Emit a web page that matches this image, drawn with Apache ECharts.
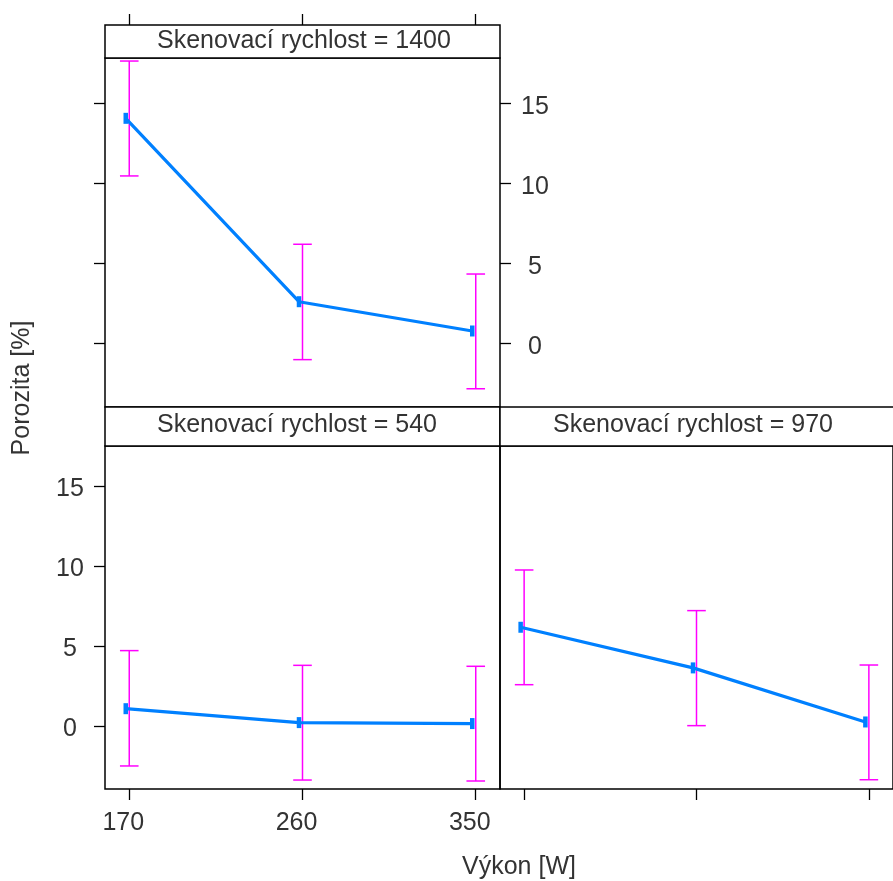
<!DOCTYPE html>
<html>
<head>
<meta charset="utf-8">
<script src="https://cdn.jsdelivr.net/npm/echarts@6/dist/echarts.min.js"></script>
<style>
html,body{margin:0;padding:0;background:#fff;}
#chart{width:893px;height:881px;}
</style>
</head>
<body>
<div id="chart"></div>
<script>
// ---- data ----
const power = [170, 260, 350];
const xTicks = [170, 260, 350];
const yTicks = [0, 5, 10, 15];
const stripPrefix = 'Skenovací rychlost = ';
const speeds = ['1400', '540', '970'];
const mean1400 = [14.06, 2.60, 0.77];
const lo1400 = [10.46, -1.02, -2.84];
const hi1400 = [17.64, 6.19, 4.33];
const mean540 = [1.08, 0.21, 0.15];
const lo540 = [-2.50, -3.38, -3.44];
const hi540 = [4.71, 3.79, 3.73];
const mean970 = [6.17, 3.63, 0.25];
const lo970 = [2.58, 0.02, -3.36];
const hi970 = [9.75, 7.21, 3.81];
const yTitle = 'Porozita [%]';
const xTitle = 'Výkon [W]';

// ---- style ----
const FONT = "'Liberation Sans', Arial, sans-serif";
const FS = 25;
const TXT = '#333';
const BLUE = '#0080ff';
const MAG = '#ff00ff';
const XMIN = 157.4, XMAX = 362.6, XSHIFT = 1.82;

const chart = echarts.init(document.getElementById('chart'), null, {renderer: 'canvas'});

const grids = [
  {left: 105, top: 58, width: 395, height: 349},
  {left: 105, top: 446, width: 395, height: 343},
  {left: 500, top: 446, width: 396, height: 343}
].map(g => Object.assign(g, {show: true, borderColor: '#000', borderWidth: 1.5, backgroundColor: 'transparent', containLabel: false}));

const tickStyle = {lineStyle: {color: '#000', width: 1.3}, length: 11, inside: false};
function xVisible(gi, pos, labels, offset) {
  return {
    type: 'value', gridIndex: gi, position: pos, offset: offset || 0, min: XMIN, max: XMAX,
    axisLine: {show: false, onZero: false}, splitLine: {show: false},
    axisTick: Object.assign({show: true, customValues: xTicks}, tickStyle),
    axisLabel: labels ? {show: true, customValues: xTicks, fontFamily: FONT, fontSize: FS, color: TXT, margin: 22, padding: [0, 12, 0, 0], align: 'center'} : {show: false}
  };
}
function xHidden(gi) {
  return {type: 'value', gridIndex: gi, show: false, min: XMIN + XSHIFT, max: XMAX + XSHIFT, axisLine: {onZero: false}};
}
function yAxis(gi, pos, min, max, ticks, labels) {
  return {
    type: 'value', gridIndex: gi, position: pos, min: min, max: max,
    show: ticks,
    axisLine: {show: false, onZero: false}, splitLine: {show: false},
    axisTick: Object.assign({show: ticks, customValues: yTicks}, tickStyle),
    axisLabel: labels ? {show: true, customValues: yTicks, fontFamily: FONT, fontSize: FS, color: TXT, margin: 35, align: 'center', verticalAlign: 'top', lineHeight: 7} : {show: false}
  };
}

const xAxes = [
  xVisible(0, 'top', false, 33), xHidden(0),
  xVisible(1, 'bottom', true), xHidden(1),
  xVisible(2, 'bottom', false), xHidden(2)
];
const Y0 = [-3.98, 17.83], Y1 = [-3.94, 17.5];
const yAxes = [
  yAxis(0, 'left', Y0[0], Y0[1], true, false),
  yAxis(0, 'right', Y0[0], Y0[1], true, true),
  yAxis(1, 'left', Y1[0], Y1[1], true, true),
  yAxis(2, 'left', Y1[0], Y1[1], false, false)
];

function errSeries(xi, yi, lo, hi) {
  return {
    type: 'custom', xAxisIndex: xi, yAxisIndex: yi, silent: true, z: 3,
    data: power.map((p, i) => [p, lo[i], hi[i]]),
    renderItem: function (params, api) {
      const a = api.coord([api.value(0), api.value(1)]);
      const b = api.coord([api.value(0), api.value(2)]);
      const hw = 9.3;
      const st = {stroke: MAG, lineWidth: 1.5};
      return {type: 'group', children: [
        {type: 'line', shape: {x1: a[0], y1: a[1], x2: b[0], y2: b[1]}, style: st},
        {type: 'line', shape: {x1: a[0] - hw, y1: a[1], x2: a[0] + hw, y2: a[1]}, style: st},
        {type: 'line', shape: {x1: b[0] - hw, y1: b[1], x2: b[0] + hw, y2: b[1]}, style: st}
      ]};
    }
  };
}
function meanSeries(xi, yi, mean) {
  return {
    type: 'line', xAxisIndex: xi, yAxisIndex: yi, z: 4,
    data: power.map((p, i) => [p, mean[i]]),
    symbol: 'rect', symbolSize: [4.5, 11], showSymbol: true,
    lineStyle: {color: BLUE, width: 3.2}, itemStyle: {color: BLUE},
    emphasis: {disabled: true}
  };
}

const stripStyle = {fill: '#fff', stroke: '#000', lineWidth: 1.5};
function stripText(x, y, s) {
  return {type: 'text', x: x, y: y, z: 10, style: {text: stripPrefix + s, font: FS + 'px ' + FONT, fill: TXT, align: 'left', verticalAlign: 'middle'}};
}

chart.setOption({
  animation: false,
  backgroundColor: '#fff',
  grid: grids,
  xAxis: xAxes,
  yAxis: yAxes,
  series: [
    errSeries(0, 0, lo1400, hi1400), meanSeries(1, 0, mean1400),
    errSeries(2, 2, lo540, hi540), meanSeries(3, 2, mean540),
    errSeries(4, 3, lo970, hi970), meanSeries(5, 3, mean970)
  ],
  graphic: [
    {type: 'rect', z: 9, shape: {x: 105, y: 25, width: 395, height: 33}, style: stripStyle},
    {type: 'rect', z: 9, shape: {x: 105, y: 407, width: 395, height: 39}, style: stripStyle},
    {type: 'rect', z: 9, shape: {x: 500, y: 407, width: 396, height: 39}, style: stripStyle},
    stripText(157, 41, speeds[0]),
    stripText(157, 425, speeds[1]),
    stripText(553, 425, speeds[2]),
    {type: 'text', x: 22, y: 388, rotation: Math.PI / 2, z: 10, style: {text: yTitle, font: FS + 'px ' + FONT, fill: TXT, align: 'center', verticalAlign: 'middle'}},
    {type: 'text', x: 519, y: 867, z: 10, style: {text: xTitle, font: FS + 'px ' + FONT, fill: TXT, align: 'center', verticalAlign: 'middle'}}
  ]
});
</script>
</body>
</html>
